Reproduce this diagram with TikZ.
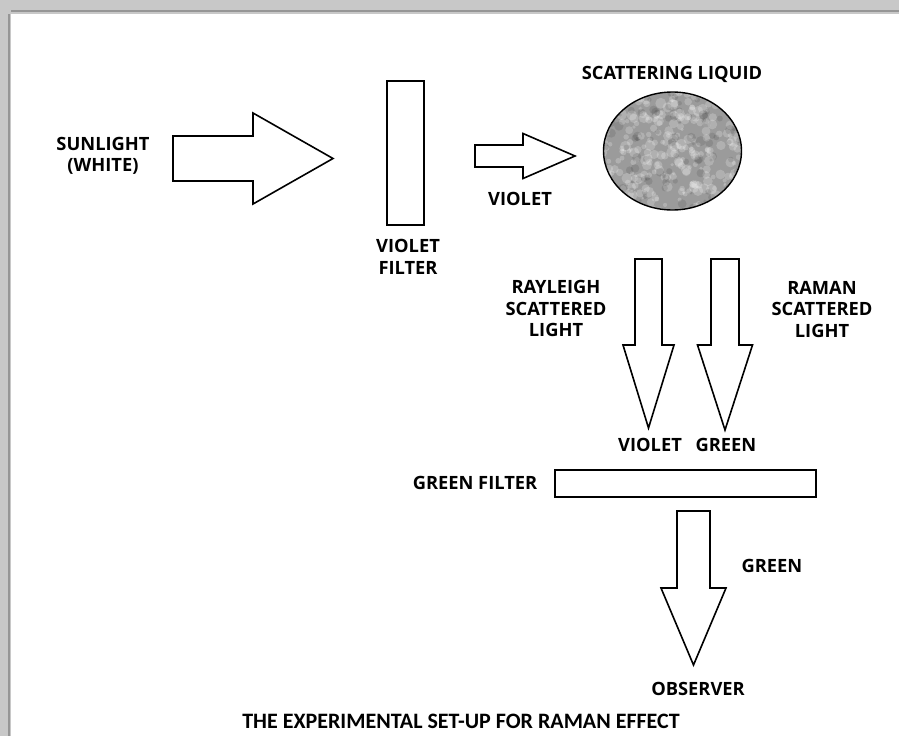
\documentclass[tikz,border=0pt]{standalone}
\usepackage{fontspec}
\setmainfont{Open Sans}
\newfontfamily\titlefont{Carlito}
\newcommand\rbeam[6]{% tail x, mid y, head x, tip x, half shaft, half head
  \draw[beam] (#1,#2-#5) -- (#3,#2-#5) -- (#3,#2-#6) -- (#4,#2)
    -- (#3,#2+#6) -- (#3,#2+#5) -- (#1,#2+#5) -- cycle;}
\newcommand\dbeam[6]{% mid x, tail y, head y, tip y, half shaft, half head
  \draw[beam] (#1-#5,#2) -- (#1-#5,#3) -- (#1-#6,#3) -- (#1,#4)
    -- (#1+#6,#3) -- (#1+#5,#3) -- (#1+#5,#2) -- cycle;}
\definecolor{frame_gray}{RGB}{200,200,200}
\definecolor{frame_dark}{RGB}{150,150,150}
\definecolor{liquid_gray}{RGB}{155,155,155}

\begin{document}
\begin{tikzpicture}[x=1pt,y=-1pt]
    \tikzset{lbl/.style={font=\bfseries\fontsize{18.3}{21.5}\selectfont, align=center, inner sep=0pt}}
    \tikzset{filterbox/.style={draw, line width=1.6pt, inner sep=0pt, fill=white}}
    \tikzset{beam/.style={draw, line width=1.6pt, line join=miter, fill=white}}
    \useasboundingbox (0,0) rectangle (899,736);

    % frame
    \fill[frame_gray] (0,0) rectangle (899,14);
    \fill[frame_gray] (0,0) rectangle (11,736);
    \draw[frame_dark, line width=1.5pt] (11,11) -- (899,11);
    \draw[frame_dark, line width=1.5pt] (9,14) -- (9,736);

    % scattering liquid
    \fill[liquid_gray] (672.5,151) ellipse [x radius=69pt, y radius=59pt];
    \begin{scope}
      \clip (672.5,151) ellipse [x radius=69pt, y radius=59pt];
      \pgfmathsetseed{11}
      \foreach \k in {1,...,320} {
        \pgfmathsetmacro\px{600+145*rnd}
        \pgfmathsetmacro\py{90+122*rnd}
        \pgfmathsetmacro\pr{1.5+4*rnd}
        \fill[white, opacity=0.22] (\px,\py) circle [radius=\pr pt];
      }
      \foreach \k in {1,...,120} {
        \pgfmathsetmacro\px{600+145*rnd}
        \pgfmathsetmacro\py{90+122*rnd}
        \pgfmathsetmacro\pr{1.5+3.5*rnd}
        \fill[black, opacity=0.1] (\px,\py) circle [radius=\pr pt];
      }
    \end{scope}
    \draw[line width=1.4pt] (672.5,151) ellipse [x radius=69pt, y radius=59pt];

    % filters
    \node[filterbox, minimum width=37pt, minimum height=144pt] (vfilter) at (405.5,153) {};
    \node[filterbox, minimum width=261pt, minimum height=27pt] (gfilter) at (685.5,483.5) {};

    % beams
    \rbeam{173}{158.5}{253}{333}{22.5}{45.5}
    \rbeam{475}{156}{523}{575}{11}{22.5}
    \dbeam{648.5}{259}{345}{428}{13.5}{25.5}
    \dbeam{725}{259}{345}{430}{14}{27.5}
    \dbeam{693.5}{511}{588}{665}{16.5}{32.5}

    % labels
    \node[lbl] (sun)      at (103,156)   {SUNLIGHT\\(WHITE)};
    \node[lbl] (vflbl)    at (408,257)   {VIOLET\\FILTER};
    \node[lbl] (vout)     at (520,199)   {VIOLET};
    \node[lbl] (liquid)   at (672,74)    {SCATTERING LIQUID};
    \node[lbl] (rayleigh) at (556,308.5) {RAYLEIGH\\SCATTERED\\LIGHT};
    \node[lbl] (raman)    at (822,309.5) {RAMAN\\SCATTERED\\LIGHT};
    \node[lbl] (vin)      at (650,445)   {VIOLET};
    \node[lbl] (gin)      at (726,445)   {GREEN};
    \node[lbl] (gflbl)    at (475,482.5) {GREEN FILTER};
    \node[lbl] (gout)     at (772,566)   {GREEN};
    \node[lbl] (observer) at (698,689)   {OBSERVER};
    \node[inner sep=0pt, font=\titlefont\bfseries\fontsize{22}{26}\selectfont] (title) at (461,721) {THE EXPERIMENTAL SET-UP FOR RAMAN EFFECT};
\end{tikzpicture}
\end{document}
